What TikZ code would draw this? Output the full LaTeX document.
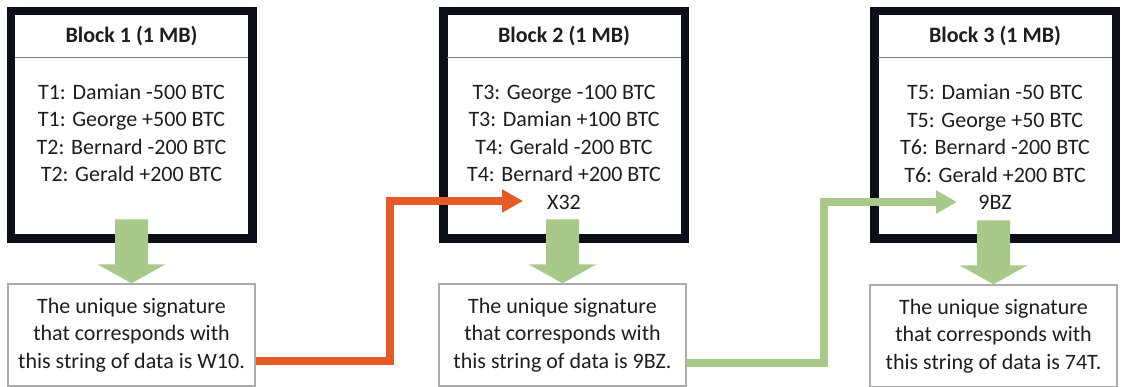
\documentclass[tikz,border=0pt]{standalone}
\usepackage{fontspec}
\setmainfont{Carlito}
\usetikzlibrary{arrows.meta,calc}
\definecolor{framedark}{HTML}{0B0F17}
\definecolor{stepgreen}{HTML}{A9C98B}
\definecolor{linkorange}{HTML}{E65A28}
\definecolor{boxgray}{HTML}{ABABAB}
\definecolor{rulegray}{HTML}{7F7F7F}
\definecolor{ink}{HTML}{1E1E1E}
\begin{document}
\begin{tikzpicture}[x=1pt,y=-1pt,
  blockframe/.style={fill=framedark, minimum width=250pt, minimum height=236pt, inner sep=0pt},
  blockpage/.style={fill=white, minimum width=233pt, minimum height=219pt, inner sep=0pt},
  titletext/.style={font=\fontsize{22}{27.5}\selectfont\bfseries, text=ink, inner sep=0pt},
  listtext/.style={font=\fontsize{22}{27.5}\selectfont, text=ink, align=center, inner sep=0pt},
  sigbox/.style={draw=boxgray, line width=1.4pt, fill=white, minimum width=247pt, minimum height=102pt,
    font=\fontsize{22}{27.5}\selectfont, text=ink, align=center, inner sep=0pt},
  divider/.style={draw=rulegray, line width=1pt},
  linkarrow/.style={line width=7.5pt, -{Triangle[length=21pt,width=22pt]}},
]
\useasboundingbox (0,0) rectangle (1121,387);

% block frames with their white pages
\node[blockframe] (f1) at (132,125) {};
\node[blockframe] (f2) at (564,125) {};
\node[blockframe] (f3) at (995,125) {};
\node[blockpage] (b1) at (131.5,124.5) {};
\node[blockpage] (b2) at (564,124.5) {};
\node[blockpage] (b3) at (995,124.5) {};

% header rules
\foreach \b in {b1,b2,b3}
  \draw[divider] ([yshift=-42.5pt]\b.north west) -- ([yshift=-42.5pt]\b.north east);

% block titles
\node[titletext] (t1) at ([yshift=-21.5pt]b1.north) {Block 1 (1 MB)};
\node[titletext] (t2) at ([yshift=-21.5pt]b2.north) {Block 2 (1 MB)};
\node[titletext] (t3) at ([yshift=-21.5pt]b3.north) {Block 3 (1 MB)};

% transaction lists
\node[listtext] (l1) at (131.5,133) {T1: Damian -500 BTC\\T1: George +500 BTC\\T2: Bernard -200 BTC\\T2: Gerald +200 BTC};
\node[listtext] (l2) at (564,147) {T3: George -100 BTC\\T3: Damian +100 BTC\\T4: Gerald -200 BTC\\T4: Bernard +200 BTC\\X32};
\node[listtext] (l3) at (995,147) {T5: Damian -50 BTC\\T5: George +50 BTC\\T6: Bernard -200 BTC\\T6: Gerald +200 BTC\\9BZ};

% signature boxes
\node[sigbox] (s1) at (131.5,335) {The unique signature\\that corresponds with\\this string of data is W10.};
\node[sigbox] (s2) at (562.5,335) {The unique signature\\that corresponds with\\this string of data is 9BZ.};
\node[sigbox] (s3) at (993.5,336) {The unique signature\\that corresponds with\\this string of data is 74T.};

% block arrows from each block down to its signature
\foreach \s in {s1,s2,s3}
  \fill[stepgreen] ($(\s.north)+(-16.5,-64)$) -- ++(33,0) -- ++(0,45) -- ++(17.5,0)
    -- (\s.north) -- ++(-34,-19) -- ++(17.5,0) -- cycle;

% signatures carried into the next block
\coordinate (in2) at (523,201);
\coordinate (in3) at (957,202);
\coordinate (bend2) at (390,201);
\coordinate (bend3) at (824,202);
\draw[linkarrow, draw=linkorange] ([yshift=-26pt]s1.east) -| (bend2) -- (in2);
\draw[linkarrow, draw=stepgreen] ([yshift=-28pt]s2.east) -| (bend3) -- (in3);
\end{tikzpicture}
\end{document}
